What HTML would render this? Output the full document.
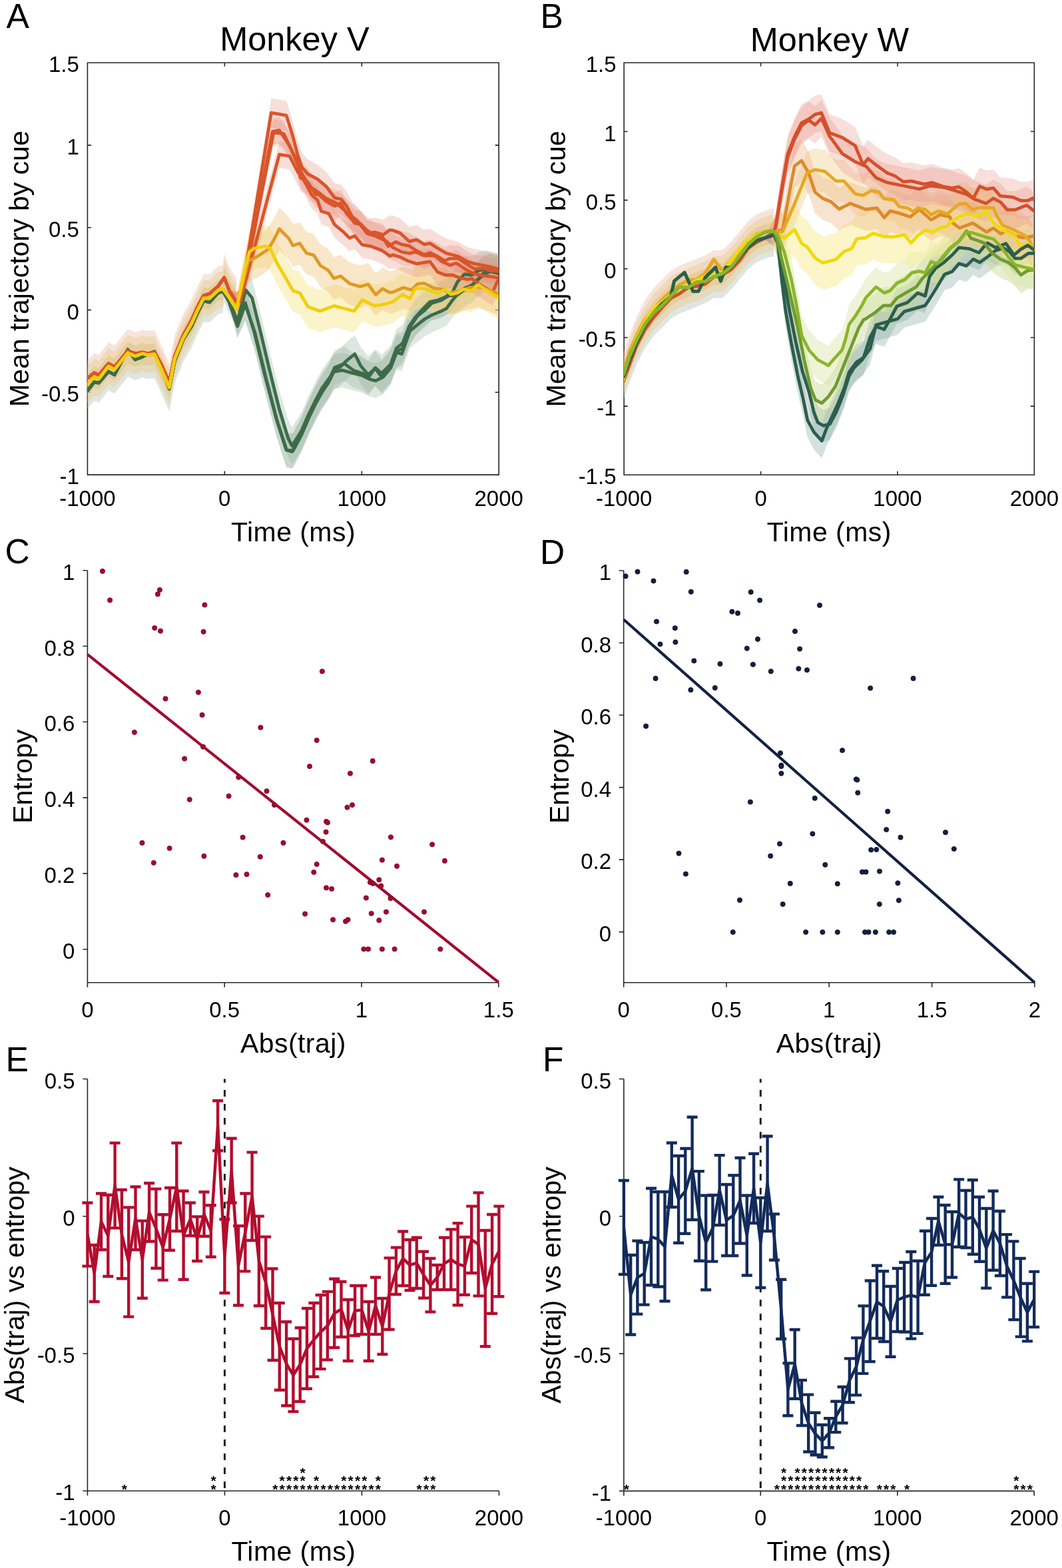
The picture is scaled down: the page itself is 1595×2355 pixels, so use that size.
<!DOCTYPE html>
<html><head><meta charset="utf-8"><style>
html,body{margin:0;padding:0;background:#fff;}
svg{display:block;}
text{font-family:"Liberation Sans", Arial, sans-serif;}
.lab{letter-spacing:0.45px;}
</style></head><body>
<svg xmlns="http://www.w3.org/2000/svg" width="1595" height="2355" viewBox="0 0 1595 2355">
<rect width="1595" height="2355" fill="#fff"/>
<text x="9.5" y="42.3" font-size="51.5" text-anchor="start" fill="#000">A</text>
<text x="811.5" y="41.6" font-size="51.5" text-anchor="start" fill="#000">B</text>
<text x="7.5" y="846.3" font-size="51.5" text-anchor="start" fill="#000">C</text>
<text x="811" y="846.5" font-size="51.5" text-anchor="start" fill="#000">D</text>
<text x="8.5" y="1609.3" font-size="51.5" text-anchor="start" fill="#000">E</text>
<text x="815" y="1609.3" font-size="51.5" text-anchor="start" fill="#000">F</text>
<text x="442.4" y="76.4" font-size="50.5" text-anchor="middle" fill="#000">Monkey V</text>
<text x="1246" y="76.8" font-size="50.5" text-anchor="middle" fill="#000">Monkey W</text>
<path d="M131.4 94.3H749.2V713.1H131.4ZM131.4 713.1V707.6M131.4 94.3V99.8M337.3 713.1V707.6M337.3 94.3V99.8M543.3 713.1V707.6M543.3 94.3V99.8M749.2 713.1V707.6M749.2 94.3V99.8M131.4 713.1H136.9M749.2 713.1H743.7M131.4 589.3H136.9M749.2 589.3H743.7M131.4 465.6H136.9M749.2 465.6H743.7M131.4 341.8H136.9M749.2 341.8H743.7M131.4 218.1H136.9M749.2 218.1H743.7M131.4 94.3H136.9M749.2 94.3H743.7" fill="none" stroke="#262626" stroke-width="1.6"/>
<text x="131.4" y="760.1" font-size="33" text-anchor="middle" fill="#000">-1000</text>
<text x="337.3" y="760.1" font-size="33" text-anchor="middle" fill="#000">0</text>
<text x="543.3" y="760.1" font-size="33" text-anchor="middle" fill="#000">1000</text>
<text x="749.2" y="760.1" font-size="33" text-anchor="middle" fill="#000">2000</text>
<text x="118.8" y="727.2" font-size="33" text-anchor="end" fill="#000">-1</text>
<text x="118.8" y="603.4" font-size="33" text-anchor="end" fill="#000">-0.5</text>
<text x="118.8" y="479.7" font-size="33" text-anchor="end" fill="#000">0</text>
<text x="118.8" y="355.9" font-size="33" text-anchor="end" fill="#000">0.5</text>
<text x="118.8" y="232.2" font-size="33" text-anchor="end" fill="#000">1</text>
<text x="118.8" y="108.4" font-size="33" text-anchor="end" fill="#000">1.5</text>
<text x="440.5" y="812.7" font-size="41" text-anchor="middle" fill="#000" class="lab">Time (ms)</text>
<text x="43.1" y="403.7" font-size="41" text-anchor="middle" transform="rotate(-90 43.1 403.7)" fill="#000">Mean trajectory by cue</text>
<path d="M937.2 94.3H1553.4V713.3H937.2ZM937.2 713.3V707.8M937.2 94.3V99.8M1142.6 713.3V707.8M1142.6 94.3V99.8M1348 713.3V707.8M1348 94.3V99.8M1553.4 713.3V707.8M1553.4 94.3V99.8M937.2 713.3H942.7M1553.4 713.3H1547.9M937.2 610.1H942.7M1553.4 610.1H1547.9M937.2 507H942.7M1553.4 507H1547.9M937.2 403.8H942.7M1553.4 403.8H1547.9M937.2 300.6H942.7M1553.4 300.6H1547.9M937.2 197.5H942.7M1553.4 197.5H1547.9M937.2 94.3H942.7M1553.4 94.3H1547.9" fill="none" stroke="#262626" stroke-width="1.6"/>
<text x="937.2" y="760.3" font-size="33" text-anchor="middle" fill="#000">-1000</text>
<text x="1142.6" y="760.3" font-size="33" text-anchor="middle" fill="#000">0</text>
<text x="1348" y="760.3" font-size="33" text-anchor="middle" fill="#000">1000</text>
<text x="1553.4" y="760.3" font-size="33" text-anchor="middle" fill="#000">2000</text>
<text x="925.5" y="727.4" font-size="33" text-anchor="end" fill="#000">-1.5</text>
<text x="925.5" y="624.2" font-size="33" text-anchor="end" fill="#000">-1</text>
<text x="925.5" y="521.1" font-size="33" text-anchor="end" fill="#000">-0.5</text>
<text x="925.5" y="417.9" font-size="33" text-anchor="end" fill="#000">0</text>
<text x="925.5" y="314.7" font-size="33" text-anchor="end" fill="#000">0.5</text>
<text x="925.5" y="211.6" font-size="33" text-anchor="end" fill="#000">1</text>
<text x="925.5" y="108.4" font-size="33" text-anchor="end" fill="#000">1.5</text>
<text x="1245.3" y="812.7" font-size="41" text-anchor="middle" fill="#000" class="lab">Time (ms)</text>
<text x="848.9" y="403.8" font-size="41" text-anchor="middle" transform="rotate(-90 848.9 403.8)" fill="#000">Mean trajectory by cue</text>
<path d="M131.4 856.7V1475.8H748.8M131.4 1475.8V1482.8M337.2 1475.8V1482.8M543 1475.8V1482.8M748.8 1475.8V1482.8M131.4 1425.7H124.4M131.4 1311.9H124.4M131.4 1198.1H124.4M131.4 1084.3H124.4M131.4 970.5H124.4M131.4 856.7H124.4" fill="none" stroke="#262626" stroke-width="1.6"/>
<text x="131.4" y="1527.5" font-size="33" text-anchor="middle" fill="#000">0</text>
<text x="337.2" y="1527.5" font-size="33" text-anchor="middle" fill="#000">0.5</text>
<text x="543" y="1527.5" font-size="33" text-anchor="middle" fill="#000">1</text>
<text x="748.8" y="1527.5" font-size="33" text-anchor="middle" fill="#000">1.5</text>
<text x="112.3" y="1439.8" font-size="33" text-anchor="end" fill="#000">0</text>
<text x="112.3" y="1326" font-size="33" text-anchor="end" fill="#000">0.2</text>
<text x="112.3" y="1212.2" font-size="33" text-anchor="end" fill="#000">0.4</text>
<text x="112.3" y="1098.4" font-size="33" text-anchor="end" fill="#000">0.6</text>
<text x="112.3" y="984.6" font-size="33" text-anchor="end" fill="#000">0.8</text>
<text x="112.3" y="870.8" font-size="33" text-anchor="end" fill="#000">1</text>
<text x="440.4" y="1581.1" font-size="41" text-anchor="middle" fill="#000" class="lab">Abs(traj)</text>
<text x="48.3" y="1166.2" font-size="41" text-anchor="middle" transform="rotate(-90 48.3 1166.2)" fill="#000">Entropy</text>
<path d="M936.7 857V1475.8H1553.9M936.7 1475.8V1482.8M1091 1475.8V1482.8M1245.3 1475.8V1482.8M1399.6 1475.8V1482.8M1553.9 1475.8V1482.8M936.7 1399.6H929.7M936.7 1291.1H929.7M936.7 1182.6H929.7M936.7 1074H929.7M936.7 965.5H929.7M936.7 857H929.7" fill="none" stroke="#262626" stroke-width="1.6"/>
<text x="936.7" y="1527.5" font-size="33" text-anchor="middle" fill="#000">0</text>
<text x="1091" y="1527.5" font-size="33" text-anchor="middle" fill="#000">0.5</text>
<text x="1245.3" y="1527.5" font-size="33" text-anchor="middle" fill="#000">1</text>
<text x="1399.6" y="1527.5" font-size="33" text-anchor="middle" fill="#000">1.5</text>
<text x="1553.9" y="1527.5" font-size="33" text-anchor="middle" fill="#000">2</text>
<text x="918" y="1413.7" font-size="33" text-anchor="end" fill="#000">0</text>
<text x="918" y="1305.2" font-size="33" text-anchor="end" fill="#000">0.2</text>
<text x="918" y="1196.7" font-size="33" text-anchor="end" fill="#000">0.4</text>
<text x="918" y="1088.1" font-size="33" text-anchor="end" fill="#000">0.6</text>
<text x="918" y="979.6" font-size="33" text-anchor="end" fill="#000">0.8</text>
<text x="918" y="871.1" font-size="33" text-anchor="end" fill="#000">1</text>
<text x="1245.3" y="1581.1" font-size="41" text-anchor="middle" fill="#000" class="lab">Abs(traj)</text>
<text x="854.1" y="1166.4" font-size="41" text-anchor="middle" transform="rotate(-90 854.1 1166.4)" fill="#000">Entropy</text>
<path d="M131.4 1620.5V2239.3H749.5M131.4 2239.3V2246.3M337.4 2239.3V2246.3M543.5 2239.3V2246.3M749.5 2239.3V2246.3M131.4 2239.3H124.4M131.4 2033H124.4M131.4 1826.8H124.4M131.4 1620.5H124.4" fill="none" stroke="#262626" stroke-width="1.6"/>
<text x="131.4" y="2290.7" font-size="33" text-anchor="middle" fill="#000">-1000</text>
<text x="337.4" y="2290.7" font-size="33" text-anchor="middle" fill="#000">0</text>
<text x="543.5" y="2290.7" font-size="33" text-anchor="middle" fill="#000">1000</text>
<text x="749.5" y="2290.7" font-size="33" text-anchor="middle" fill="#000">2000</text>
<text x="112.5" y="2253.4" font-size="33" text-anchor="end" fill="#000">-1</text>
<text x="112.5" y="2047.1" font-size="33" text-anchor="end" fill="#000">-0.5</text>
<text x="112.5" y="1840.9" font-size="33" text-anchor="end" fill="#000">0</text>
<text x="112.5" y="1634.6" font-size="33" text-anchor="end" fill="#000">0.5</text>
<text x="440.9" y="2344.4" font-size="41" text-anchor="middle" fill="#000" class="lab">Time (ms)</text>
<text x="36" y="1929.9" font-size="41" text-anchor="middle" transform="rotate(-90 36 1929.9)" fill="#000">Abs(traj) vs entropy</text>
<path d="M936.9 1620.5V2239.4H1553.2M936.9 2239.4V2246.4M1142.3 2239.4V2246.4M1347.8 2239.4V2246.4M1553.2 2239.4V2246.4M936.9 2239.4H929.9M936.9 2033.1H929.9M936.9 1826.8H929.9M936.9 1620.5H929.9" fill="none" stroke="#262626" stroke-width="1.6"/>
<text x="936.9" y="2290.8" font-size="33" text-anchor="middle" fill="#000">-1000</text>
<text x="1142.3" y="2290.8" font-size="33" text-anchor="middle" fill="#000">0</text>
<text x="1347.8" y="2290.8" font-size="33" text-anchor="middle" fill="#000">1000</text>
<text x="1553.2" y="2290.8" font-size="33" text-anchor="middle" fill="#000">2000</text>
<text x="918" y="2253.5" font-size="33" text-anchor="end" fill="#000">-1</text>
<text x="918" y="2047.2" font-size="33" text-anchor="end" fill="#000">-0.5</text>
<text x="918" y="1840.9" font-size="33" text-anchor="end" fill="#000">0</text>
<text x="918" y="1634.6" font-size="33" text-anchor="end" fill="#000">0.5</text>
<text x="1245.1" y="2344.4" font-size="41" text-anchor="middle" fill="#000" class="lab">Time (ms)</text>
<text x="841.7" y="1929.9" font-size="41" text-anchor="middle" transform="rotate(-90 841.7 1929.9)" fill="#000">Abs(traj) vs entropy</text>
<path d="M131.4 982.9L748.8 1475.3" stroke="#a30a2e" stroke-width="4.2" fill="none"/>
<g fill="#a30a2e" stroke="#7d0822" stroke-width="0.9"><circle cx="153.9" cy="857.9" r="3.6"/><circle cx="165.1" cy="901.4" r="3.6"/><circle cx="239.9" cy="886" r="3.6"/><circle cx="236.9" cy="892.4" r="3.6"/><circle cx="307.4" cy="908.5" r="3.6"/><circle cx="232.2" cy="943.1" r="3.6"/><circle cx="241" cy="947.7" r="3.6"/><circle cx="305.6" cy="948.8" r="3.6"/><circle cx="297.9" cy="1039.8" r="3.6"/><circle cx="248.5" cy="1049.4" r="3.6"/><circle cx="303.6" cy="1073.8" r="3.6"/><circle cx="391.4" cy="1092.7" r="3.6"/><circle cx="201.9" cy="1099.8" r="3.6"/><circle cx="305" cy="1121.6" r="3.6"/><circle cx="277.1" cy="1139.5" r="3.6"/><circle cx="483.9" cy="1008.3" r="3.6"/><circle cx="475.7" cy="1111.8" r="3.6"/><circle cx="559.7" cy="1142.9" r="3.6"/><circle cx="465" cy="1151" r="3.6"/><circle cx="358.3" cy="1167.3" r="3.6"/><circle cx="400.5" cy="1188.2" r="3.6"/><circle cx="343.6" cy="1195.7" r="3.6"/><circle cx="284.7" cy="1200.8" r="3.6"/><circle cx="412.1" cy="1209" r="3.6"/><circle cx="364.6" cy="1257.7" r="3.6"/><circle cx="425.5" cy="1265.9" r="3.6"/><circle cx="213.5" cy="1265.9" r="3.6"/><circle cx="254.6" cy="1274" r="3.6"/><circle cx="306.4" cy="1285.8" r="3.6"/><circle cx="390.8" cy="1286.8" r="3.6"/><circle cx="230.8" cy="1295.8" r="3.6"/><circle cx="354.4" cy="1314.1" r="3.6"/><circle cx="370.5" cy="1313.2" r="3.6"/><circle cx="402.2" cy="1344.1" r="3.6"/><circle cx="526" cy="1161.6" r="3.6"/><circle cx="521.5" cy="1212.6" r="3.6"/><circle cx="529" cy="1209" r="3.6"/><circle cx="460.5" cy="1231.7" r="3.6"/><circle cx="490" cy="1233.8" r="3.6"/><circle cx="492" cy="1235.4" r="3.6"/><circle cx="489.6" cy="1249.6" r="3.6"/><circle cx="484.9" cy="1263.8" r="3.6"/><circle cx="586.9" cy="1257.3" r="3.6"/><circle cx="649.1" cy="1268.3" r="3.6"/><circle cx="573.9" cy="1291.7" r="3.6"/><circle cx="667.9" cy="1292.9" r="3.6"/><circle cx="475.7" cy="1298" r="3.6"/><circle cx="596.1" cy="1300.8" r="3.6"/><circle cx="471.3" cy="1310" r="3.6"/><circle cx="569.3" cy="1321.4" r="3.6"/><circle cx="556" cy="1325.2" r="3.6"/><circle cx="560.1" cy="1326.9" r="3.6"/><circle cx="572.3" cy="1330.5" r="3.6"/><circle cx="490" cy="1333.4" r="3.6"/><circle cx="498.1" cy="1335" r="3.6"/><circle cx="549.9" cy="1348.6" r="3.6"/><circle cx="586.5" cy="1349.2" r="3.6"/><circle cx="458.1" cy="1372.6" r="3.6"/><circle cx="557.7" cy="1372" r="3.6"/><circle cx="580" cy="1369.6" r="3.6"/><circle cx="637" cy="1369.6" r="3.6"/><circle cx="500.1" cy="1381.3" r="3.6"/><circle cx="519" cy="1383.8" r="3.6"/><circle cx="522.5" cy="1381.3" r="3.6"/><circle cx="569.3" cy="1382.2" r="3.6"/><circle cx="546.3" cy="1425.5" r="3.6"/><circle cx="553" cy="1425.5" r="3.6"/><circle cx="573.9" cy="1425.5" r="3.6"/><circle cx="592.6" cy="1425.5" r="3.6"/><circle cx="661.3" cy="1425.5" r="3.6"/></g>
<path d="M936.7 930.5L1553.9 1475.8" stroke="#13213f" stroke-width="4.2" fill="none"/>
<g fill="#13213f" stroke="#0c1630" stroke-width="0.9"><circle cx="939.6" cy="865.4" r="3.6"/><circle cx="957.5" cy="858.7" r="3.6"/><circle cx="1030.7" cy="858.9" r="3.6"/><circle cx="981.5" cy="872.5" r="3.6"/><circle cx="1037.8" cy="888.8" r="3.6"/><circle cx="1127.7" cy="889.2" r="3.6"/><circle cx="1141.1" cy="901.6" r="3.6"/><circle cx="1231" cy="909.1" r="3.6"/><circle cx="1099.4" cy="918.7" r="3.6"/><circle cx="1108" cy="920.9" r="3.6"/><circle cx="986" cy="933.5" r="3.6"/><circle cx="1013.8" cy="943.3" r="3.6"/><circle cx="1194" cy="948.2" r="3.6"/><circle cx="1138" cy="959.9" r="3.6"/><circle cx="991.5" cy="967.5" r="3.6"/><circle cx="1014.4" cy="964.4" r="3.6"/><circle cx="1121.8" cy="973.8" r="3.6"/><circle cx="1201.1" cy="974.6" r="3.6"/><circle cx="1042.3" cy="992.5" r="3.6"/><circle cx="1081.5" cy="997.1" r="3.6"/><circle cx="1130.9" cy="998" r="3.6"/><circle cx="1157.8" cy="1008.3" r="3.6"/><circle cx="1199.4" cy="1004.3" r="3.6"/><circle cx="1212" cy="1006.3" r="3.6"/><circle cx="984.6" cy="1018.9" r="3.6"/><circle cx="1037.4" cy="1036.2" r="3.6"/><circle cx="1073.8" cy="1033.1" r="3.6"/><circle cx="970.1" cy="1090.7" r="3.6"/><circle cx="1172" cy="1131.1" r="3.6"/><circle cx="1173.4" cy="1149.4" r="3.6"/><circle cx="1173.4" cy="1151" r="3.6"/><circle cx="1371.6" cy="1018.9" r="3.6"/><circle cx="1307.2" cy="1033.5" r="3.6"/><circle cx="1265.1" cy="1127" r="3.6"/><circle cx="1173.4" cy="1161.6" r="3.6"/><circle cx="1126.9" cy="1204.5" r="3.6"/><circle cx="1223.8" cy="1198.8" r="3.6"/><circle cx="1220.4" cy="1252.3" r="3.6"/><circle cx="1171" cy="1267.3" r="3.6"/><circle cx="1157.2" cy="1285.6" r="3.6"/><circle cx="1019.5" cy="1281.7" r="3.6"/><circle cx="1239.3" cy="1298.8" r="3.6"/><circle cx="1029.9" cy="1312.6" r="3.6"/><circle cx="1186.8" cy="1326.9" r="3.6"/><circle cx="1111" cy="1351.9" r="3.6"/><circle cx="1175.7" cy="1358" r="3.6"/><circle cx="1100.8" cy="1400" r="3.6"/><circle cx="1210.2" cy="1400" r="3.6"/><circle cx="1235.4" cy="1400" r="3.6"/><circle cx="1285.8" cy="1170.3" r="3.6"/><circle cx="1287.4" cy="1171.3" r="3.6"/><circle cx="1288.3" cy="1190.7" r="3.6"/><circle cx="1333.2" cy="1218.7" r="3.6"/><circle cx="1331.2" cy="1246" r="3.6"/><circle cx="1352.5" cy="1257.7" r="3.6"/><circle cx="1420" cy="1250.2" r="3.6"/><circle cx="1432.8" cy="1275" r="3.6"/><circle cx="1308.2" cy="1276.4" r="3.6"/><circle cx="1316.3" cy="1276" r="3.6"/><circle cx="1295" cy="1309.6" r="3.6"/><circle cx="1300.5" cy="1309.6" r="3.6"/><circle cx="1321" cy="1308.6" r="3.6"/><circle cx="1257.8" cy="1327.3" r="3.6"/><circle cx="1348.4" cy="1326.3" r="3.6"/><circle cx="1349.9" cy="1352.3" r="3.6"/><circle cx="1320.8" cy="1358" r="3.6"/><circle cx="1257.8" cy="1400" r="3.6"/><circle cx="1299" cy="1400" r="3.6"/><circle cx="1304.5" cy="1400" r="3.6"/><circle cx="1314.9" cy="1400" r="3.6"/><circle cx="1335.2" cy="1400" r="3.6"/><circle cx="1342.1" cy="1400" r="3.6"/></g>
<path d="M337.4 1620.5V2239.3" stroke="#000" stroke-width="2.8" stroke-dasharray="10 11" stroke-dashoffset="4.5" fill="none"/>
<path d="M131.4 1806.5V1901.6M123.4 1806.5H139.4M123.4 1901.6H139.4M141.7 1870V1955M133.7 1870H149.7M133.7 1955H149.7M152 1792.5V1877M144 1792.5H160M144 1877H160M162.3 1794.8V1917M154.3 1794.8H170.3M154.3 1917H170.3M172.6 1716.6V1844.4M164.6 1716.6H180.6M164.6 1844.4H180.6M182.9 1787V1920.3M174.9 1787H190.9M174.9 1920.3H190.9M193.2 1813.4V1977.6M185.2 1813.4H201.2M185.2 1977.6H201.2M203.5 1782.5V1877M195.5 1782.5H211.5M195.5 1877H211.5M213.8 1833.6V1949.7M205.8 1833.6H221.8M205.8 1949.7H221.8M224.1 1777V1864.5M216.1 1777H232.1M216.1 1864.5H232.1M234.4 1785.6V1904.8M226.4 1785.6H242.4M226.4 1904.8H242.4M244.7 1824.3V1922.6M236.7 1824.3H252.7M236.7 1922.6H252.7M255 1784V1877.7M247 1784H263M247 1877.7H263M265.3 1716.6V1849M257.3 1716.6H273.3M257.3 1849H273.3M275.6 1788.7V1921.8M267.6 1788.7H283.6M267.6 1921.8H283.6M285.9 1806.5V1856M277.9 1806.5H293.9M277.9 1856H293.9M296.2 1827.4V1894M288.2 1827.4H304.2M288.2 1894H304.2M306.5 1790.2V1856.8M298.5 1790.2H314.5M298.5 1856.8H314.5M316.8 1810.3V1887.8M308.8 1810.3H324.8M308.8 1887.8H324.8M327.1 1653.2V1728.3M319.1 1653.2H335.1M319.1 1728.3H335.1M337.4 1831.2V1942M329.4 1831.2H345.4M329.4 1942H345.4M347.7 1709.7V1806.5M339.7 1709.7H355.7M339.7 1806.5H355.7M358 1841.3V1960.5M350 1841.3H366M350 1960.5H366M368.3 1792.5V1909.4M360.3 1792.5H376.3M360.3 1909.4H376.3M378.6 1730.6V1863M370.6 1730.6H386.6M370.6 1863H386.6M388.9 1826.6V1961.3M380.9 1826.6H396.9M380.9 1961.3H396.9M399.2 1857.6V1995M391.2 1857.6H407.2M391.2 1995H407.2M409.5 1905.5V2043M401.5 1905.5H417.5M401.5 2043H417.5M419.8 1957V2087.8M411.8 1957H427.8M411.8 2087.8H427.8M430.1 1985.3V2111.2M422.1 1985.3H438.1M422.1 2111.2H438.1M440.4 2010.7V2120.1M432.4 2010.7H448.4M432.4 2120.1H448.4M450.7 1994.2V2105M442.7 1994.2H458.7M442.7 2105H458.7M461 1965V2085.7M453 1965H469M453 2085.7H469M471.3 1957V2067.8M463.3 1957H479.3M463.3 2067.8H479.3M481.6 1945V2056.1M473.6 1945H489.6M473.6 2056.1H489.6M491.9 1939.9V2042.4M483.9 1939.9H499.9M483.9 2042.4H499.9M502.2 1920.7V2024M494.2 1920.7H510.2M494.2 2024H510.2M512.5 1925V2008M504.5 1925H520.5M504.5 2008H520.5M522.8 1952V2044M514.8 1952H530.8M514.8 2044H530.8M533.1 1931V2006M525.1 1931H541.1M525.1 2006H541.1M543.4 1931V2004M535.4 1931H551.4M535.4 2004H551.4M553.7 1955V2044M545.7 1955H561.7M545.7 2044H561.7M564 1918.5V2004M556 1918.5H572M556 2004H572M574.3 1950V2034M566.3 1950H582.3M566.3 2034H582.3M584.6 1889.4V1996.7M576.6 1889.4H592.6M576.6 1996.7H592.6M594.9 1873.6V1944M586.9 1873.6H602.9M586.9 1944H602.9M605.2 1849.5V1931M597.2 1849.5H613.2M597.2 1931H613.2M615.5 1862V1938M607.5 1862H623.5M607.5 1938H623.5M625.8 1858.8V1935M617.8 1858.8H633.8M617.8 1935H633.8M636.1 1879.8V1949.5M628.1 1879.8H644.1M628.1 1949.5H644.1M646.4 1890V1970.4M638.4 1890H654.4M638.4 1970.4H654.4M656.7 1900V1937M648.7 1900H664.7M648.7 1937H664.7M667 1858.8V1937M659 1858.8H675M659 1937H675M677.3 1846.4V1937M669.3 1846.4H685.3M669.3 1937H685.3M687.6 1837.1V1960.3M679.6 1837.1H695.6M679.6 1960.3H695.6M697.9 1858V1944.8M689.9 1858H705.9M689.9 1944.8H705.9M708.2 1811.6V1912M700.2 1811.6H716.2M700.2 1912H716.2M718.5 1791.4V1946.4M710.5 1791.4H726.5M710.5 1946.4H726.5M728.8 1848V2022.3M720.8 1848H736.8M720.8 2022.3H736.8M739.1 1824V1972.7M731.1 1824H747.1M731.1 1972.7H747.1M749.4 1811.6V1947.2M741.4 1811.6H757.4M741.4 1947.2H757.4" stroke="#b30d2e" stroke-width="4.4" fill="none" stroke-linejoin="miter"/>
<path d="M131.4 1854L141.7 1912.5L152 1834.8L162.3 1855.9L172.6 1780.5L182.9 1853.7L193.2 1895.5L203.5 1829.8L213.8 1891.7L224.1 1820.8L234.4 1845.2L244.7 1873.4L255 1830.8L265.3 1782.8L275.6 1855.2L285.9 1831.2L296.2 1860.7L306.5 1823.5L316.8 1849L327.1 1690.8L337.4 1886.6L347.7 1758.1L358 1900.9L368.3 1851L378.6 1796.8L388.9 1893.9L399.2 1926.3L409.5 1974.2L419.8 2022.4L430.1 2048.2L440.4 2065.4L450.7 2049.6L461 2025.3L471.3 2012.4L481.6 2000.5L491.9 1991.2L502.2 1972.3L512.5 1966.5L522.8 1998L533.1 1968.5L543.4 1967.5L553.7 1999.5L564 1961.2L574.3 1992L584.6 1943.1L594.9 1908.8L605.2 1890.2L615.5 1900L625.8 1896.9L636.1 1914.7L646.4 1930.2L656.7 1918.5L667 1897.9L677.3 1891.7L687.6 1898.7L697.9 1901.4L708.2 1861.8L718.5 1868.9L728.8 1935.2L739.1 1898.3L749.4 1879.4" stroke="#b30d2e" stroke-width="4.5" fill="none" stroke-linejoin="round"/>
<g font-size="21" font-weight="bold" style="font-family:'DejaVu Sans',sans-serif" fill="#000"><text x="182.7" y="2243.6">*</text><text x="316.6" y="2243.6">*</text><text x="316.6" y="2230.5">*</text><text x="409.3" y="2243.6">*</text><text x="419.6" y="2243.6">*</text><text x="429.9" y="2243.6">*</text><text x="440.2" y="2243.6">*</text><text x="450.5" y="2243.6">*</text><text x="460.8" y="2243.6">*</text><text x="471.1" y="2243.6">*</text><text x="481.4" y="2243.6">*</text><text x="491.7" y="2243.6">*</text><text x="502" y="2243.6">*</text><text x="512.3" y="2243.6">*</text><text x="522.6" y="2243.6">*</text><text x="532.9" y="2243.6">*</text><text x="543.2" y="2243.6">*</text><text x="553.5" y="2243.6">*</text><text x="563.8" y="2243.6">*</text><text x="625.6" y="2243.6">*</text><text x="635.9" y="2243.6">*</text><text x="646.2" y="2243.6">*</text><text x="419.6" y="2230.5">*</text><text x="429.9" y="2230.5">*</text><text x="440.2" y="2230.5">*</text><text x="450.5" y="2230.5">*</text><text x="471.1" y="2230.5">*</text><text x="512.3" y="2230.5">*</text><text x="522.6" y="2230.5">*</text><text x="532.9" y="2230.5">*</text><text x="543.2" y="2230.5">*</text><text x="563.8" y="2230.5">*</text><text x="635.9" y="2230.5">*</text><text x="646.2" y="2230.5">*</text><text x="450.5" y="2218.7">*</text></g>
<path d="M1142.3 1620.5V2239.4" stroke="#000" stroke-width="2.8" stroke-dasharray="10 11" stroke-dashoffset="4.5" fill="none"/>
<path d="M936.9 1773V1914M928.9 1773H944.9M928.9 1914H944.9M947.2 1885V2004.5M939.2 1885H955.2M939.2 2004.5H955.2M957.4 1863.6V1973.6M949.4 1863.6H965.4M949.4 1973.6H965.4M967.7 1866V1959.6M959.7 1866H975.7M959.7 1959.6H975.7M978 1784.7V1930.2M970 1784.7H986M970 1930.2H986M988.3 1790V1932.5M980.3 1790H996.3M980.3 1932.5H996.3M998.5 1790V1954.2M990.5 1790H1006.5M990.5 1954.2H1006.5M1008.8 1716.5V1813M1000.8 1716.5H1016.8M1000.8 1813H1016.8M1019.1 1736V1866.7M1011.1 1736H1027.1M1011.1 1866.7H1027.1M1029.3 1725V1852.8M1021.3 1725H1037.3M1021.3 1852.8H1037.3M1039.6 1677.8V1832M1031.6 1677.8H1047.6M1031.6 1832H1047.6M1049.9 1759.1V1893.8M1041.9 1759.1H1057.9M1041.9 1893.8H1057.9M1060.2 1795.5V1937.2M1052.2 1795.5H1068.2M1052.2 1937.2H1068.2M1070.4 1795V1894.6M1062.4 1795H1078.4M1062.4 1894.6H1078.4M1080.7 1735.1V1840M1072.7 1735.1H1088.7M1072.7 1840H1088.7M1091 1779V1886M1083 1779H1099M1083 1886H1099M1101.3 1765.3V1886M1093.3 1765.3H1109.3M1093.3 1886H1109.3M1111.5 1739V1867.5M1103.5 1739H1119.5M1103.5 1867.5H1119.5M1121.8 1795.5V1915.5M1113.8 1795.5H1129.8M1113.8 1915.5H1129.8M1132.1 1732.8V1837M1124.1 1732.8H1140.1M1124.1 1837H1140.1M1142.3 1799V1934M1134.3 1799H1150.3M1134.3 1934H1150.3M1152.6 1706.5V1849M1144.6 1706.5H1160.6M1144.6 1849H1160.6M1162.9 1823.4V1892.5M1154.9 1823.4H1170.9M1154.9 1892.5H1170.9M1173.2 1921.7V2011M1165.2 1921.7H1181.2M1165.2 2011H1181.2M1183.4 2047.4V2126.3M1175.4 2047.4H1191.4M1175.4 2126.3H1191.4M1193.7 1997V2100.8M1185.7 1997H1201.7M1185.7 2100.8H1201.7M1204 2072.9V2141M1196 2072.9H1212M1196 2141H1212M1214.2 2094.6V2180.5M1206.2 2094.6H1222.2M1206.2 2180.5H1222.2M1224.5 2121.7V2185.2M1216.5 2121.7H1232.5M1216.5 2185.2H1232.5M1234.8 2140V2188.3M1226.8 2140H1242.8M1226.8 2188.3H1242.8M1245.1 2130.2V2174.3M1237.1 2130.2H1253.1M1237.1 2174.3H1253.1M1255.3 2104.7V2151.1M1247.3 2104.7H1263.3M1247.3 2151.1H1263.3M1265.6 2083V2137.2M1257.6 2083H1273.6M1257.6 2137.2H1273.6M1275.9 2040.4V2106.2M1267.9 2040.4H1283.9M1267.9 2106.2H1283.9M1286.1 2009.4V2095.4M1278.1 2009.4H1294.1M1278.1 2095.4H1294.1M1296.4 1961.4V2062.9M1288.4 1961.4H1304.4M1288.4 2062.9H1304.4M1306.7 1923.5V2045M1298.7 1923.5H1314.7M1298.7 2045H1314.7M1317 1900.7V2010M1309 1900.7H1325M1309 2010H1325M1327.2 1909.2V2015M1319.2 1909.2H1335.2M1319.2 2015H1335.2M1337.5 1932V2037.7M1329.5 1932H1345.5M1329.5 2037.7H1345.5M1347.8 1905V2000M1339.8 1905H1355.8M1339.8 2000H1355.8M1358.1 1896V2000.5M1350.1 1896H1366.1M1350.1 2000.5H1366.1M1368.3 1880V2010.6M1360.3 1880H1376.3M1360.3 2010.6H1376.3M1378.6 1893.7V2002.9M1370.6 1893.7H1386.6M1370.6 2002.9H1386.6M1388.9 1848.8V1944.8M1380.9 1848.8H1396.9M1380.9 1944.8H1396.9M1399.1 1830V1930.8M1391.1 1830H1407.1M1391.1 1930.8H1407.1M1409.4 1797.7V1870M1401.4 1797.7H1417.4M1401.4 1870H1417.4M1419.7 1810V1927.8M1411.7 1810H1427.7M1411.7 1927.8H1427.7M1430 1820V1918.5M1422 1820H1438M1422 1918.5H1438M1440.2 1771.4V1872.8M1432.2 1771.4H1448.2M1432.2 1872.8H1448.2M1450.5 1788V1874.1M1442.5 1788H1458.5M1442.5 1874.1H1458.5M1460.8 1772.2V1883.7M1452.8 1772.2H1468.8M1452.8 1883.7H1468.8M1471 1797.7V1894.7M1463 1797.7H1479M1463 1894.7H1479M1481.3 1815V1934.6M1473.3 1815H1489.3M1473.3 1934.6H1489.3M1491.6 1788.8V1907.8M1483.6 1788.8H1499.6M1483.6 1907.8H1499.6M1501.9 1819V1916M1493.9 1819H1509.9M1493.9 1916H1509.9M1512.1 1854.1V1948.4M1504.1 1854.1H1520.1M1504.1 1948.4H1520.1M1522.4 1864.4V1982.1M1514.4 1864.4H1530.4M1514.4 1982.1H1530.4M1532.7 1890V2007.6M1524.7 1890H1540.7M1524.7 2007.6H1540.7M1542.9 1927.7V2014.4M1534.9 1927.7H1550.9M1534.9 2014.4H1550.9M1553.2 1909.9V1993.1M1545.2 1909.9H1561.2M1545.2 1993.1H1561.2" stroke="#132b5b" stroke-width="4.4" fill="none" stroke-linejoin="miter"/>
<path d="M936.9 1843.5L947.2 1944.8L957.4 1918.6L967.7 1912.8L978 1857.5L988.3 1861.2L998.5 1872.1L1008.8 1764.8L1019.1 1801.3L1029.3 1788.9L1039.6 1754.9L1049.9 1826.4L1060.2 1866.3L1070.4 1844.8L1080.7 1787.5L1091 1832.5L1101.3 1825.7L1111.5 1803.2L1121.8 1855.5L1132.1 1784.9L1142.3 1866.5L1152.6 1777.8L1162.9 1858L1173.2 1966.3L1183.4 2086.9L1193.7 2048.9L1204 2106.9L1214.2 2137.6L1224.5 2153.4L1234.8 2164.2L1245.1 2152.2L1255.3 2127.9L1265.6 2110.1L1275.9 2073.3L1286.1 2052.4L1296.4 2012.2L1306.7 1984.2L1317 1955.3L1327.2 1962.1L1337.5 1984.8L1347.8 1952.5L1358.1 1948.2L1368.3 1945.3L1378.6 1948.3L1388.9 1896.8L1399.1 1880.4L1409.4 1833.8L1419.7 1868.9L1430 1869.2L1440.2 1822.1L1450.5 1831L1460.8 1828L1471 1846.2L1481.3 1874.8L1491.6 1848.3L1501.9 1867.5L1512.1 1901.2L1522.4 1923.2L1532.7 1948.8L1542.9 1971.1L1553.2 1951.5" stroke="#132b5b" stroke-width="4.5" fill="none" stroke-linejoin="round"/>
<g font-size="21" font-weight="bold" style="font-family:'DejaVu Sans',sans-serif" fill="#000"><text x="936.7" y="2243.6">*</text><text x="1162.7" y="2243.6">*</text><text x="1173" y="2243.6">*</text><text x="1183.2" y="2243.6">*</text><text x="1193.5" y="2243.6">*</text><text x="1203.8" y="2243.6">*</text><text x="1214" y="2243.6">*</text><text x="1224.3" y="2243.6">*</text><text x="1234.6" y="2243.6">*</text><text x="1244.9" y="2243.6">*</text><text x="1255.1" y="2243.6">*</text><text x="1265.4" y="2243.6">*</text><text x="1275.7" y="2243.6">*</text><text x="1285.9" y="2243.6">*</text><text x="1296.2" y="2243.6">*</text><text x="1316.8" y="2243.6">*</text><text x="1327" y="2243.6">*</text><text x="1337.3" y="2243.6">*</text><text x="1357.9" y="2243.6">*</text><text x="1522.2" y="2243.6">*</text><text x="1532.5" y="2243.6">*</text><text x="1542.7" y="2243.6">*</text><text x="1173" y="2230.5">*</text><text x="1183.2" y="2230.5">*</text><text x="1193.5" y="2230.5">*</text><text x="1203.8" y="2230.5">*</text><text x="1214" y="2230.5">*</text><text x="1224.3" y="2230.5">*</text><text x="1234.6" y="2230.5">*</text><text x="1244.9" y="2230.5">*</text><text x="1255.1" y="2230.5">*</text><text x="1265.4" y="2230.5">*</text><text x="1275.7" y="2230.5">*</text><text x="1285.9" y="2230.5">*</text><text x="1522.2" y="2230.5">*</text><text x="1173" y="2218.7">*</text><text x="1193.5" y="2218.7">*</text><text x="1203.8" y="2218.7">*</text><text x="1214" y="2218.7">*</text><text x="1224.3" y="2218.7">*</text><text x="1234.6" y="2218.7">*</text><text x="1244.9" y="2218.7">*</text><text x="1255.1" y="2218.7">*</text><text x="1265.4" y="2218.7">*</text></g>
<clipPath id="ca"><rect x="131.4" y="94.3" width="617.8" height="618.8"/></clipPath>
<g clip-path="url(#ca)">
<path d="M131.4 542L141.3 530L148.5 533L163 514L172 519L192 494L203 499L214 495L221 497L232 496L242.5 519L254.2 546L262.4 503L275 472L287.7 450L296.7 430L305.8 412L314.8 412L327.5 400L334.7 398L336.8 381L345 402L355 417L355 453L345 438L336.8 417L334.7 434L327.5 436L314.8 448L305.8 448L296.7 466L287.7 486L275 508L262.4 539L254.2 582L242.5 555L232 532L221 533L214 531L203 535L192 530L172 555L163 550L148.5 569L141.3 566L131.4 578Z" fill="#f0cdbf" fill-opacity="0.55" stroke="none"/>
<path d="M131.4 578L141.3 566L148.5 569L163 550L172 555L192 530L203 535L214 531L221 533L232 532L242.5 555L254.2 582L262.4 539L275 508L287.7 486L296.7 466L305.8 448L314.8 448L327.5 436L334.7 434L336.8 417L345 438L355 453L355 489L345 474L336.8 453L334.7 470L327.5 472L314.8 484L305.8 484L296.7 502L287.7 522L275 544L262.4 575L254.2 618L242.5 591L232 568L221 569L214 567L203 571L192 566L172 591L163 586L148.5 605L141.3 602L131.4 614Z" fill="#c9d6cc" fill-opacity="0.6" stroke="none"/>
<path d="M131.4 551L141.3 539L148.5 542L163 523L172 528L192 503L203 508L214 504L221 506L232 505L242.5 528L254.2 555L262.4 512L275 481L287.7 459L296.7 439L305.8 421L314.8 421L327.5 409L334.7 407L336.8 390L345 411L355 426L355 480L345 465L336.8 444L334.7 461L327.5 463L314.8 475L305.8 475L296.7 493L287.7 513L275 535L262.4 566L254.2 609L242.5 582L232 559L221 560L214 558L203 562L192 557L172 582L163 577L148.5 596L141.3 593L131.4 605Z" fill="#e9cf9c" fill-opacity="0.55" stroke="none"/>
<path d="M131.4 562L141.3 550L148.5 553L163 534L172 539L192 514L203 519L214 515L221 517L232 516L242.5 539L254.2 566L262.4 523L275 492L287.7 470L296.7 450L305.8 432L314.8 432L327.5 420L334.7 418L336.8 401L345 422L355 437L355 469L345 454L336.8 433L334.7 450L327.5 452L314.8 464L305.8 464L296.7 482L287.7 502L275 524L262.4 555L254.2 598L242.5 571L232 548L221 549L214 547L203 551L192 546L172 571L163 566L148.5 585L141.3 582L131.4 594Z" fill="#e2c27f" fill-opacity="0.5" stroke="none"/>
<path d="M343.7 446.3L356.6 463.2L369 408L378.5 419.3L390.2 466.1L404.8 527.5L419.4 586L432.6 629.9L438.5 641.6L452.4 619.9L463.6 594.2L474.7 571.8L483.7 555L492.6 542.7L501.6 530.4L510.5 523.7L520.6 513.6L532.9 503.6L541.8 521.5L553 534.9L564.2 524.8L573.2 532.7L586.6 519.2L595.5 494.6L604.5 487.9L614.6 462.2L623.6 448.8L634.7 436.4L645.9 425.3L657.1 423L668.3 418.5L679.5 410.7L687.3 395.1L697.4 383.9L708.6 385L718.6 378.3L729.8 376L748.9 380.5L748.9 436.5L729.8 432L718.6 434.3L708.6 441L697.4 439.9L687.3 451.1L679.5 466.7L668.3 474.5L657.1 479L645.9 481.3L634.7 492.4L623.6 504.8L614.6 518.2L604.5 543.9L595.5 550.6L586.6 575.2L573.2 588.7L564.2 580.8L553 590.9L541.8 577.5L532.9 559.6L520.6 569.6L510.5 579.7L501.6 586.4L492.6 598.7L483.7 611L474.7 627.8L463.6 650.2L452.4 675.9L438.5 697.6L432.6 685.9L419.4 642L404.8 583.5L390.2 522.1L378.5 475.3L369 463.2L356.6 501.6L343.7 453.7Z" fill="#8fae98" fill-opacity="0.3" stroke="none"/>
<path d="M343.7 448.4L356.6 469.8L368.3 428.8L381.4 471L397.5 536.8L415 602.6L429.7 649.4L438.5 652.4L452.4 626L463.6 600L474.7 577L483.7 561L492.6 548L502.7 526L517.2 520.1L530.7 530.2L544.1 534.7L553 541.4L563.1 526.8L573.2 540.3L586.6 523.5L595.5 501.1L604.5 497.7L615.7 465.3L626.9 448.5L637 440.7L648.2 429.5L662.7 425L673.9 418.3L685.1 417.2L697.4 407.1L708.6 402.6L722 390.3L735.4 381.4L748.9 384.7L748.9 436.7L735.4 433.4L722 442.3L708.6 454.6L697.4 459.1L685.1 469.2L673.9 470.3L662.7 477L648.2 481.5L637 492.7L626.9 500.5L615.7 517.3L604.5 549.7L595.5 553.1L586.6 575.5L573.2 592.3L563.1 578.8L553 593.4L544.1 586.7L530.7 582.2L517.2 572.1L502.7 578L492.6 600L483.7 613L474.7 629L463.6 652L452.4 678L438.5 704.4L429.7 701.4L415 654.6L397.5 588.8L381.4 523L368.3 480.4L356.6 506.6L343.7 455.6Z" fill="#8fae98" fill-opacity="0.28" stroke="none"/>
<path d="M343.7 449.4L356.6 471.6L368.3 431.2L383 474L399 540L416 606L430.5 650L440 651L452.4 628L463.6 602L474.7 579L483.7 563L492.6 550L501.6 532L515 530.2L530.7 534.7L544.1 538L555.3 543.6L564.2 545.8L575.4 540.3L586.6 526.8L595.5 503.3L603.4 505.6L615.7 470.9L626.9 461.9L638.1 453L648.2 447.4L661.6 441.8L670.5 437.3L679.5 425L686.2 417.2L697.4 409.4L708.6 402.6L718.6 392.6L729.8 380.3L748.9 383.6L748.9 435.6L729.8 432.3L718.6 444.6L708.6 454.6L697.4 461.4L686.2 469.2L679.5 477L670.5 489.3L661.6 493.8L648.2 499.4L638.1 505L626.9 513.9L615.7 522.9L603.4 557.6L595.5 555.3L586.6 578.8L575.4 592.3L564.2 597.8L555.3 595.6L544.1 590L530.7 586.7L515 582.2L501.6 584L492.6 602L483.7 615L474.7 631L463.6 654L452.4 680L440 703L430.5 702L416 658L399 592L383 526L368.3 482.8L356.6 508.4L343.7 456.6Z" fill="#8fae98" fill-opacity="0.28" stroke="none"/>
<path d="M343.7 442.3L355.1 446.2L368.3 370.9L374.8 346.2L381.6 341L398.9 337.6L405.7 341L416.1 363.4L426.4 380.7L440.2 404.7L450.5 408.2L462.4 428.6L480.3 435.3L501.5 427.4L516 431L531.7 435.3L544.1 418.5L563.1 427.4L576.5 425.2L590 421.3L604.5 410.1L615.7 416.8L623.6 401.1L637 401.1L657.1 409L668.3 402.2L677.3 410.1L687.3 407.8L696.3 402.2L707.5 405.6L718.6 395.5L729.8 403.4L748.9 415.7L748.9 479.7L729.8 467.4L718.6 459.5L707.5 469.6L696.3 466.2L687.3 471.8L677.3 474.1L668.3 466.2L657.1 473L637 465.1L623.6 465.1L615.7 480.8L604.5 474.1L590 485.3L576.5 489.2L563.1 491.4L544.1 482.5L531.7 499.3L516 495L501.5 491.4L480.3 499.3L462.4 492.6L450.5 472.2L440.2 468.7L426.4 444.7L416.1 427.4L405.7 405L398.9 401.6L381.6 405L374.8 410.2L368.3 433.1L355.1 483.4L343.7 449.7Z" fill="#f7e48a" fill-opacity="0.45" stroke="none"/>
<path d="M343.7 442.3L355.1 443.4L373 360L386.8 353.1L402.3 342.8L410.9 329L419.5 311.8L433.3 325.6L440 336.8L450.1 333.5L460.1 348L471.3 351.4L481.4 367L492.6 373.7L501.5 386L511.6 382.7L525 393.9L540.7 398.4L553 395L564.2 410.7L574.3 401.7L585.5 407.3L590 406.7L605.7 400L618 403.4L626.9 394.4L637 393.3L652.6 401.1L663.8 402.2L675 407.8L690 405L705 400L720 399L735 404L748.9 409L748.9 473L735 468L720 463L705 464L690 469L675 471.8L663.8 466.2L652.6 465.1L637 457.3L626.9 458.4L618 467.4L605.7 464L590 470.7L585.5 471.3L574.3 465.7L564.2 474.7L553 459L540.7 462.4L525 457.9L511.6 446.7L501.5 450L492.6 437.7L481.4 431L471.3 415.4L460.1 412L450.1 397.5L440 400.8L433.3 389.6L419.5 375.8L410.9 393L402.3 406.8L386.8 417.1L373 424L355.1 480.6L343.7 449.7Z" fill="#f0c47a" fill-opacity="0.4" stroke="none"/>
<path d="M345 434.4L355 439.1L361 432.1L407.4 147.4L430.1 151.4L440.2 184L447.4 212L453.4 229.3L462.4 239.4L476.9 247.2L490.3 258.4L502.7 275.2L512.7 277.4L520.6 287.5L529.5 304.3L540.7 315.5L551.9 328.9L563.1 326.7L575.4 330.6L585.5 323.3L590 323.9L601.2 328.3L614.6 340.6L625.8 337.9L637 345.1L645.9 343.4L657.1 350.7L670.5 358.5L688.4 363L701.9 370.9L713.1 374.2L724.2 376.4L735.4 378.7L748.9 382L748.9 426L735.4 422.7L724.2 420.4L713.1 418.2L701.9 414.9L688.4 407L670.5 402.5L657.1 394.7L645.9 387.4L637 389.1L625.8 381.9L614.6 384.6L601.2 372.3L590 367.9L585.5 367.3L575.4 374.6L563.1 370.7L551.9 372.9L540.7 359.5L529.5 348.3L520.6 331.5L512.7 321.4L502.7 319.2L490.3 302.4L476.9 291.2L462.4 283.4L453.4 273.3L447.4 256L440.2 228L430.1 195.4L407.4 191.4L361 471.9L355 466.9L345 441.6Z" fill="#e58a78" fill-opacity="0.28" stroke="none"/>
<path d="M345 434.5L355 439.6L361 433.2L409.2 177.5L419.5 175.7L433.3 196.4L447.1 223.9L451.2 247L462.4 253.7L473.6 271.6L479.2 272.7L490.3 282.8L502.7 289.5L511.6 285L520.6 300.7L532.9 315.2L542.9 317.5L551.9 330.9L563.1 334.3L574.3 335.4L583.2 350L594.4 343.2L603.4 347.1L614.6 349.4L626.9 357.2L637 362.8L645.9 359.4L657.1 365L668.3 371.7L675 368.4L688.4 368.4L701.9 377.3L713.1 384L724.2 382.9L735.4 386.3L748.9 387.4L748.9 427.4L735.4 426.3L724.2 422.9L713.1 424L701.9 417.3L688.4 408.4L675 408.4L668.3 411.7L657.1 405L645.9 399.4L637 402.8L626.9 397.2L614.6 389.4L603.4 387.1L594.4 383.2L583.2 390L574.3 375.4L563.1 374.3L551.9 370.9L542.9 357.5L532.9 355.2L520.6 340.7L511.6 325L502.7 329.5L490.3 322.8L479.2 312.7L473.6 311.6L462.4 293.7L451.2 287L447.1 263.9L433.3 236.4L419.5 215.7L409.2 217.5L361 470.8L355 466.4L345 441.5Z" fill="#e58a78" fill-opacity="0.28" stroke="none"/>
<path d="M345 434.5L355 439.6L361 433.2L410.9 179.2L426.4 180.9L436.7 203.3L454 242L465 260L480 270L490 278L505 285L520 298L535 310L550 325L565 335L580 342L590 351.6L603.4 358.3L614.6 360.5L623.6 358.3L637 363.9L652.6 363.9L663.8 372.9L676.1 378.4L685.1 375.1L701.9 386.3L710.8 390.7L724.2 394.1L735.4 395.2L748.9 397.5L748.9 437.5L735.4 435.2L724.2 434.1L710.8 430.7L701.9 426.3L685.1 415.1L676.1 418.4L663.8 412.9L652.6 403.9L637 403.9L623.6 398.3L614.6 400.5L603.4 398.3L590 391.6L580 382L565 375L550 365L535 350L520 338L505 325L490 318L480 310L465 300L454 282L436.7 243.3L426.4 220.9L410.9 219.2L361 470.8L355 466.4L345 441.5Z" fill="#e58a78" fill-opacity="0.22" stroke="none"/>
<path d="M345 434.5L355 439.6L361 433.2L419.5 211.9L435 214.5L447.1 237.7L454.5 247L468 272.7L476.9 280.6L482.5 297.3L493.7 300.7L502.7 317.5L516.1 328.7L525 337.6L532.9 334.3L544.1 347.7L557.5 349.9L574.3 356.6L585.5 364.5L590 362.8L601.2 366.1L612.4 371.7L625.8 376.2L645.9 372.9L657.1 388.5L668.3 393L679.5 393L690.7 397.5L701.9 399.7L708.6 398.6L724.2 409.8L739.9 418.7L748.9 398.6L748.9 438.6L739.9 458.7L724.2 449.8L708.6 438.6L701.9 439.7L690.7 437.5L679.5 433L668.3 433L657.1 428.5L645.9 412.9L625.8 416.2L612.4 411.7L601.2 406.1L590 402.8L585.5 404.5L574.3 396.6L557.5 389.9L544.1 387.7L532.9 374.3L525 377.6L516.1 368.7L502.7 357.5L493.7 340.7L482.5 337.3L476.9 320.6L468 312.7L454.5 287L447.1 277.7L435 254.5L419.5 251.9L361 470.8L355 466.4L345 441.5Z" fill="#e58a78" fill-opacity="0.28" stroke="none"/>
<path d="M131.4 587L141.3 574L148.5 575L163 558L172 563L192 525L203 540L214 536L221 532L232 528L242.5 552L254.2 584L262.4 542L275 510L287.7 490L296.7 470L305.8 452L314.8 454L327.5 440L334.7 437L343.7 453L356.6 490L368.3 457L383 500L399 566L416 632L430.5 676L440 677L452.4 654L463.6 628L474.7 605L483.7 589L492.6 576L501.6 558L515 556.2L530.7 560.7L544.1 564L555.3 569.6L564.2 571.8L575.4 566.3L586.6 552.8L595.5 529.3L603.4 531.6L615.7 496.9L626.9 487.9L638.1 479L648.2 473.4L661.6 467.8L670.5 463.3L679.5 451L686.2 443.2L697.4 435.4L708.6 428.6L718.6 418.6L729.8 406.3L748.9 409.6" stroke="#3d6b49" stroke-width="4.8" fill="none" stroke-linejoin="round" stroke-linecap="round"/>
<path d="M131.4 587L141.3 574L148.5 575L163 558L172 563L192 525L203 540L214 536L221 532L232 528L242.5 552L254.2 584L262.4 542L275 510L287.7 490L296.7 470L305.8 452L314.8 454L327.5 440L334.7 437L343.7 452L356.6 488.2L368.3 454.6L381.4 497L397.5 562.8L415 628.6L429.7 675.4L438.5 678.4L452.4 652L463.6 626L474.7 603L483.7 587L492.6 574L502.7 552L517.2 546.1L530.7 556.2L544.1 560.7L553 567.4L563.1 552.8L573.2 566.3L586.6 549.5L595.5 527.1L604.5 523.7L615.7 491.3L626.9 474.5L637 466.7L648.2 455.5L662.7 451L673.9 444.3L685.1 443.2L697.4 433.1L708.6 428.6L722 416.3L735.4 407.4L748.9 410.7" stroke="#3d6b49" stroke-width="4.8" fill="none" stroke-linejoin="round" stroke-linecap="round"/>
<path d="M131.4 587L141.3 574L148.5 575L163 558L172 563L192 525L203 540L214 536L221 532L232 528L242.5 552L254.2 584L262.4 542L275 510L287.7 490L296.7 470L305.8 452L314.8 454L327.5 440L334.7 437L343.7 450L356.6 482.4L369 435.6L378.5 447.3L390.2 494.1L404.8 555.5L419.4 614L432.6 657.9L438.5 669.6L452.4 647.9L463.6 622.2L474.7 599.8L483.7 583L492.6 570.7L501.6 558.4L510.5 551.7L520.6 541.6L532.9 531.6L541.8 549.5L553 562.9L564.2 552.8L573.2 560.7L586.6 547.2L595.5 522.6L604.5 515.9L614.6 490.2L623.6 476.8L634.7 464.4L645.9 453.3L657.1 451L668.3 446.5L679.5 438.7L687.3 423.1L697.4 411.9L708.6 413L718.6 406.3L729.8 404L748.9 408.5" stroke="#3d6b49" stroke-width="4.8" fill="none" stroke-linejoin="round" stroke-linecap="round"/>
<path d="M131.4 568L141.3 560L148.5 563L163 546L172 551L192 527L203 531L214 529L221 531L232 529L242.5 548L254.2 575L262.4 535L275 504L287.7 481L296.7 461L305.8 444L314.8 441L327.5 430L336.8 417L345 438L355 453L361 452L419.5 231.9L435 234.5L447.1 257.7L454.5 267L468 292.7L476.9 300.6L482.5 317.3L493.7 320.7L502.7 337.5L516.1 348.7L525 357.6L532.9 354.3L544.1 367.7L557.5 369.9L574.3 376.6L585.5 384.5L590 382.8L601.2 386.1L612.4 391.7L625.8 396.2L645.9 392.9L657.1 408.5L668.3 413L679.5 413L690.7 417.5L701.9 419.7L708.6 418.6L724.2 429.8L739.9 438.7L748.9 418.6" stroke="#d9552a" stroke-width="4.8" fill="none" stroke-linejoin="round" stroke-linecap="round"/>
<path d="M131.4 568L141.3 560L148.5 563L163 546L172 551L192 527L203 531L214 529L221 531L232 529L242.5 548L254.2 575L262.4 535L275 504L287.7 481L296.7 461L305.8 444L314.8 441L327.5 430L336.8 417L345 438L355 453L361 452L410.9 199.2L426.4 200.9L436.7 223.3L454 262L465 280L480 290L490 298L505 305L520 318L535 330L550 345L565 355L580 362L590 371.6L603.4 378.3L614.6 380.5L623.6 378.3L637 383.9L652.6 383.9L663.8 392.9L676.1 398.4L685.1 395.1L701.9 406.3L710.8 410.7L724.2 414.1L735.4 415.2L748.9 417.5" stroke="#d9552a" stroke-width="4.8" fill="none" stroke-linejoin="round" stroke-linecap="round"/>
<path d="M131.4 568L141.3 560L148.5 563L163 546L172 551L192 527L203 531L214 529L221 531L232 529L242.5 548L254.2 575L262.4 535L275 504L287.7 481L296.7 461L305.8 444L314.8 441L327.5 430L336.8 417L345 438L355 453L361 452L409.2 197.5L419.5 195.7L433.3 216.4L447.1 243.9L451.2 267L462.4 273.7L473.6 291.6L479.2 292.7L490.3 302.8L502.7 309.5L511.6 305L520.6 320.7L532.9 335.2L542.9 337.5L551.9 350.9L563.1 354.3L574.3 355.4L583.2 370L594.4 363.2L603.4 367.1L614.6 369.4L626.9 377.2L637 382.8L645.9 379.4L657.1 385L668.3 391.7L675 388.4L688.4 388.4L701.9 397.3L713.1 404L724.2 402.9L735.4 406.3L748.9 407.4" stroke="#d9552a" stroke-width="4.8" fill="none" stroke-linejoin="round" stroke-linecap="round"/>
<path d="M131.4 568L141.3 560L148.5 563L163 546L172 551L192 527L203 531L214 529L221 531L232 529L242.5 548L254.2 575L262.4 535L275 504L287.7 481L296.7 461L305.8 444L314.8 441L327.5 430L336.8 417L345 438L355 453L361 452L407.4 169.4L430.1 173.4L440.2 206L447.4 234L453.4 251.3L462.4 261.4L476.9 269.2L490.3 280.4L502.7 297.2L512.7 299.4L520.6 309.5L529.5 326.3L540.7 337.5L551.9 350.9L563.1 348.7L575.4 352.6L585.5 345.3L590 345.9L601.2 350.3L614.6 362.6L625.8 359.9L637 367.1L645.9 365.4L657.1 372.7L670.5 380.5L688.4 385L701.9 392.9L713.1 396.2L724.2 398.4L735.4 400.7L748.9 404" stroke="#d9552a" stroke-width="4.8" fill="none" stroke-linejoin="round" stroke-linecap="round"/>
<path d="M131.4 578L141.3 566L148.5 569L163 550L172 555L192 530L203 535L214 531L221 533L232 532L242.5 555L254.2 582L262.4 539L275 508L287.7 486L296.7 466L305.8 448L314.8 448L327.5 436L334.7 434L343.7 446L355.1 462L373 392L386.8 385.1L402.3 374.8L410.9 361L419.5 343.8L433.3 357.6L440 368.8L450.1 365.5L460.1 380L471.3 383.4L481.4 399L492.6 405.7L501.5 418L511.6 414.7L525 425.9L540.7 430.4L553 427L564.2 442.7L574.3 433.7L585.5 439.3L590 438.7L605.7 432L618 435.4L626.9 426.4L637 425.3L652.6 433.1L663.8 434.2L675 439.8L690 437L705 432L720 431L735 436L748.9 441" stroke="#e09a22" stroke-width="4.8" fill="none" stroke-linejoin="round" stroke-linecap="round"/>
<path d="M131.4 578L141.3 566L148.5 569L163 550L172 555L192 530L203 535L214 531L221 533L232 532L242.5 555L254.2 582L262.4 539L275 508L287.7 486L296.7 466L305.8 448L314.8 448L327.5 436L334.7 434L343.7 446L355.1 464.8L368.3 402L374.8 378.2L381.6 373L398.9 369.6L405.7 373L416.1 395.4L426.4 412.7L440.2 436.7L450.5 440.2L462.4 460.6L480.3 467.3L501.5 459.4L516 463L531.7 467.3L544.1 450.5L563.1 459.4L576.5 457.2L590 453.3L604.5 442.1L615.7 448.8L623.6 433.1L637 433.1L657.1 441L668.3 434.2L677.3 442.1L687.3 439.8L696.3 434.2L707.5 437.6L718.6 427.5L729.8 435.4L748.9 447.7" stroke="#f1cf0c" stroke-width="4.8" fill="none" stroke-linejoin="round" stroke-linecap="round"/>
</g>
<clipPath id="cb"><rect x="937.2" y="94.3" width="616.2" height="619"/></clipPath>
<g clip-path="url(#cb)">
<path d="M936.5 528.2L945.5 502.4L955.8 476.6L968.7 450.7L981.7 432.7L994.6 419.7L1007.5 406.8L1020.4 399.1L1033.3 393.9L1046.2 388.8L1059.1 383.6L1072 375.8L1085 375.8L1097.9 362.9L1110.8 347.4L1123.7 331.9L1136.6 321.6L1149.5 316.4L1157.3 313.9L1162.4 313.9L1162.4 349.9L1157.3 349.9L1149.5 352.4L1136.6 357.6L1123.7 367.9L1110.8 383.4L1097.9 398.9L1085 411.8L1072 411.8L1059.1 419.6L1046.2 424.8L1033.3 429.9L1020.4 435.1L1007.5 442.8L994.6 455.7L981.7 468.7L968.7 486.7L955.8 512.6L945.5 538.4L936.5 564.2Z" fill="#f0cdbf" fill-opacity="0.55" stroke="none"/>
<path d="M936.5 564.2L945.5 538.4L955.8 512.6L968.7 486.7L981.7 468.7L994.6 455.7L1007.5 442.8L1020.4 435.1L1033.3 429.9L1046.2 424.8L1059.1 419.6L1072 411.8L1085 411.8L1097.9 398.9L1110.8 383.4L1123.7 367.9L1136.6 357.6L1149.5 352.4L1157.3 349.9L1162.4 349.9L1162.4 385.9L1157.3 385.9L1149.5 388.4L1136.6 393.6L1123.7 403.9L1110.8 419.4L1097.9 434.9L1085 447.8L1072 447.8L1059.1 455.6L1046.2 460.8L1033.3 465.9L1020.4 471.1L1007.5 478.8L994.6 491.7L981.7 504.7L968.7 522.7L955.8 548.6L945.5 574.4L936.5 600.2Z" fill="#c9d6cc" fill-opacity="0.6" stroke="none"/>
<path d="M936.5 537.2L945.5 511.4L955.8 485.6L968.7 459.7L981.7 441.7L994.6 428.7L1007.5 415.8L1020.4 408.1L1033.3 402.9L1046.2 397.8L1059.1 392.6L1072 384.8L1085 384.8L1097.9 371.9L1110.8 356.4L1123.7 340.9L1136.6 330.6L1149.5 325.4L1157.3 322.9L1162.4 322.9L1162.4 376.9L1157.3 376.9L1149.5 379.4L1136.6 384.6L1123.7 394.9L1110.8 410.4L1097.9 425.9L1085 438.8L1072 438.8L1059.1 446.6L1046.2 451.8L1033.3 456.9L1020.4 462.1L1007.5 469.8L994.6 482.7L981.7 495.7L968.7 513.7L955.8 539.6L945.5 565.4L936.5 591.2Z" fill="#e9cf9c" fill-opacity="0.55" stroke="none"/>
<path d="M936.5 548.2L945.5 522.4L955.8 496.6L968.7 470.7L981.7 452.7L994.6 439.7L1007.5 426.8L1020.4 419.1L1033.3 413.9L1046.2 408.8L1059.1 403.6L1072 395.8L1085 395.8L1097.9 382.9L1110.8 367.4L1123.7 351.9L1136.6 341.6L1149.5 336.4L1157.3 333.9L1162.4 333.9L1162.4 365.9L1157.3 365.9L1149.5 368.4L1136.6 373.6L1123.7 383.9L1110.8 399.4L1097.9 414.9L1085 427.8L1072 427.8L1059.1 435.6L1046.2 440.8L1033.3 445.9L1020.4 451.1L1007.5 458.8L994.6 471.7L981.7 484.7L968.7 502.7L955.8 528.6L945.5 554.4L936.5 580.2Z" fill="#e2c27f" fill-opacity="0.5" stroke="none"/>
<path d="M1149.5 353.7L1157.3 343.5L1162.4 334.8L1168 341.2L1174.1 395.2L1180.1 442.8L1188.6 490.4L1198.2 538.6L1206.6 574.7L1212.7 604.8L1222.3 622.9L1234.3 636.2L1241.6 616.9L1250 598.8L1258.4 580.7L1268.1 556.7L1275.3 532.6L1286.1 518.1L1297 510.9L1306.7 481L1315.7 464.2L1328 468.7L1336.9 453L1347 434L1362.7 428.4L1378.3 413.9L1389.5 418.4L1396.2 389.3L1405.2 377L1416.4 369.1L1430 357L1440.3 345.8L1455.8 347.6L1470.4 353.6L1478.2 344.1L1483.3 339L1495.4 345.8L1510.9 339.8L1522.9 357L1533.2 348.4L1543.6 342.4L1552.5 349L1552.5 401L1543.6 394.4L1533.2 400.4L1522.9 409L1510.9 391.8L1495.4 397.8L1483.3 391L1478.2 396.1L1470.4 405.6L1455.8 399.6L1440.3 397.8L1430 409L1416.4 421.1L1405.2 429L1396.2 441.3L1389.5 470.4L1378.3 465.9L1362.7 480.4L1347 486L1336.9 505L1328 520.7L1315.7 516.2L1306.7 533L1297 562.9L1286.1 570.1L1275.3 584.6L1268.1 608.7L1258.4 632.7L1250 650.8L1241.6 668.9L1234.3 688.2L1222.3 674.9L1212.7 656.8L1206.6 626.7L1198.2 590.6L1188.6 542.4L1180.1 493.6L1174.1 444.8L1168 388.8L1162.4 369.2L1157.3 366.5L1149.5 360.3Z" fill="#88aaa0" fill-opacity="0.35" stroke="none"/>
<path d="M1149.5 353.7L1157.3 343.7L1162.4 335.3L1170 346.9L1177.7 396.4L1186.1 444.2L1195.8 492.4L1205.4 534.6L1215.1 564.7L1222.3 594.8L1228.3 610.5L1236.7 615.3L1246.4 612.9L1256 594.8L1265.7 570.7L1275.3 540.6L1282.5 528.5L1294.6 516.5L1306.7 499.8L1315.7 464L1328 460.6L1348.1 455L1358.2 443.9L1389.5 434.9L1396.2 424.8L1407.4 406.9L1418.6 387.9L1430 384L1440.3 371.9L1451.5 375.4L1461.8 365.1L1471.3 370.2L1483.3 361.6L1495.4 352.1L1507.4 348.7L1516 353.9L1524.6 364.2L1533.2 364.2L1544.4 356.5L1552.2 356.5L1552.2 404.5L1544.4 404.5L1533.2 412.2L1524.6 412.2L1516 401.9L1507.4 396.7L1495.4 400.1L1483.3 409.6L1471.3 418.2L1461.8 413.1L1451.5 423.4L1440.3 419.9L1430 432L1418.6 435.9L1407.4 454.9L1396.2 472.8L1389.5 482.9L1358.2 491.9L1348.1 503L1328 508.6L1315.7 512L1306.7 547.8L1294.6 564.5L1282.5 576.5L1275.3 588.6L1265.7 618.7L1256 642.8L1246.4 660.9L1236.7 663.3L1228.3 658.5L1222.3 642.8L1215.1 612.7L1205.4 582.6L1195.8 540.4L1186.1 492.2L1177.7 443.6L1170 393.1L1162.4 368.7L1157.3 366.3L1149.5 360.3Z" fill="#88aaa0" fill-opacity="0.35" stroke="none"/>
<path d="M1149.5 345.1L1157.3 335.2L1162.4 330.1L1166 333.7L1181.3 392.6L1189.8 428.1L1198.2 464.3L1207.8 512.5L1217.5 554.7L1224.7 572.7L1234.3 577.5L1244 567.9L1254.8 552.2L1263.3 530.6L1272.9 506.5L1282.5 482.4L1289.8 464.3L1297 452.2L1300 451L1313.4 442.1L1326.9 430.9L1338 430.9L1347 419.7L1360.4 411.9L1376.1 402.9L1385 390.6L1392.9 382.8L1404.1 370.5L1414.1 361.5L1427.6 344.7L1440 334.7L1451.5 318.9L1458.4 330.1L1467 332.7L1478.2 337L1490.2 352.5L1502.3 361.1L1514.3 366.2L1524.6 374L1533.2 385.1L1543.6 378.3L1552.2 377.4L1552.2 433.4L1543.6 434.3L1533.2 441.1L1524.6 430L1514.3 422.2L1502.3 417.1L1490.2 408.5L1478.2 393L1467 388.7L1458.4 386.1L1451.5 374.9L1440 390.7L1427.6 400.7L1414.1 417.5L1404.1 426.5L1392.9 438.8L1385 446.6L1376.1 458.9L1360.4 467.9L1347 475.7L1338 486.9L1326.9 486.9L1313.4 498.1L1300 507L1297 508.2L1289.8 520.3L1282.5 538.4L1272.9 562.5L1263.3 586.6L1254.8 608.2L1244 623.9L1234.3 633.5L1224.7 628.7L1217.5 610.7L1207.8 568.5L1198.2 520.3L1189.8 484.1L1181.3 447.4L1166 378.3L1162.4 365.7L1157.3 358.6L1149.5 351.7Z" fill="#c4d48a" fill-opacity="0.4" stroke="none"/>
<path d="M1149.5 345.1L1157.3 335L1162.4 329.6L1167.6 327.1L1177.9 349.9L1188.6 390L1195.8 426.1L1204.2 474.3L1215.1 496L1228.3 510.5L1244 518.9L1252.4 509.3L1264.5 496L1269.3 481.6L1275.3 457.5L1284.9 444.2L1294.6 428.6L1300 417.7L1315.7 400.9L1328 409.9L1336.9 406.5L1347 395.3L1359.3 389.7L1369.4 379.7L1380.6 377.4L1389.5 379.7L1398.5 362.9L1407.4 366.2L1416.4 355L1427.6 341.6L1440.3 332.4L1451.5 318.6L1460.1 319.5L1481.6 326.4L1491.9 329L1502.3 339.3L1514.3 355.6L1524.6 367.7L1537.5 371.1L1552.2 374.5L1552.2 434.5L1537.5 431.1L1524.6 427.7L1514.3 415.6L1502.3 399.3L1491.9 389L1481.6 386.4L1460.1 379.5L1451.5 378.6L1440.3 392.4L1427.6 401.6L1416.4 415L1407.4 426.2L1398.5 422.9L1389.5 439.7L1380.6 437.4L1369.4 439.7L1359.3 449.7L1347 455.3L1336.9 466.5L1328 469.9L1315.7 460.9L1300 477.7L1294.6 488.6L1284.9 504.2L1275.3 517.5L1269.3 541.6L1264.5 556L1252.4 569.3L1244 578.9L1228.3 570.5L1215.1 556L1204.2 534.3L1195.8 486.1L1188.6 450L1177.9 406.7L1167.6 377.7L1162.4 366.2L1157.3 358.8L1149.5 351.7Z" fill="#d6e4a0" fill-opacity="0.4" stroke="none"/>
<path d="M1149.5 344.1L1157.3 333.9L1162.4 328L1166 324.8L1177.9 321.3L1193.4 304.7L1203.8 325.4L1212 330.6L1224.1 347.5L1236.1 354.7L1255.4 349.9L1267.5 337.8L1279.5 333L1286.7 318.6L1300 317.1L1311.2 310.4L1325.7 314.8L1341.4 316L1358.2 312.6L1368.3 324.9L1378.3 313.7L1389.5 305.9L1400.7 308.1L1411.9 302.5L1423.1 299.2L1430 291.4L1449.8 281.1L1471.3 283.7L1481.6 276.8L1491.9 294.9L1507.4 306L1524.6 314.6L1533.2 331.8L1544.4 326.7L1552.2 335.3L1552.2 415.3L1544.4 406.7L1533.2 411.8L1524.6 394.6L1507.4 386L1491.9 374.9L1481.6 356.8L1471.3 363.7L1449.8 361.1L1430 371.4L1423.1 379.2L1411.9 382.5L1400.7 388.1L1389.5 385.9L1378.3 393.7L1368.3 404.9L1358.2 392.6L1341.4 396L1325.7 394.8L1311.2 390.4L1300 397.1L1286.7 398.6L1279.5 413L1267.5 417.8L1255.4 429.9L1236.1 434.7L1224.1 427.5L1212 410.6L1203.8 405.4L1193.4 384.7L1177.9 393.9L1166 379.2L1162.4 369.8L1157.3 359.9L1149.5 350.7Z" fill="#f8ec9a" fill-opacity="0.55" stroke="none"/>
<path d="M1149.5 344.1L1157.3 334.7L1162.4 329.1L1166 325.1L1175.4 318L1193.4 274L1203.8 248.1L1212 227.8L1224.1 222.9L1238.6 225.3L1255.4 239.8L1267.5 239.8L1284.3 259.1L1296.4 261.5L1308.4 254.3L1320.5 256.7L1327.7 266.3L1342.5 268L1350.4 278.1L1362.7 280.3L1371.6 285.9L1378.3 280.3L1389.5 282.5L1398.5 290.4L1409.7 284.8L1423.1 289.3L1430 283.1L1440.3 274.5L1450.6 273.6L1461 283.1L1471.3 279.6L1491.9 280.5L1498.8 295.1L1505.7 306.3L1524.6 314L1537.5 320.9L1546.1 328.7L1552.2 342.4L1552.2 406.4L1546.1 392.7L1537.5 384.9L1524.6 378L1505.7 370.3L1498.8 359.1L1491.9 344.5L1471.3 343.6L1461 347.1L1450.6 337.6L1440.3 338.5L1430 347.1L1423.1 353.3L1409.7 348.8L1398.5 354.4L1389.5 346.5L1378.3 344.3L1371.6 349.9L1362.7 344.3L1350.4 342.1L1342.5 332L1327.7 330.3L1320.5 320.7L1308.4 318.3L1296.4 325.5L1284.3 323.1L1267.5 303.8L1255.4 303.8L1238.6 289.3L1224.1 286.9L1212 291.8L1203.8 312.1L1193.4 338L1175.4 376.6L1166 372.9L1162.4 366.7L1157.3 359.1L1149.5 350.7Z" fill="#f0cc88" fill-opacity="0.4" stroke="none"/>
<path d="M1149.5 344.1L1157.3 334.7L1162.4 329.1L1166 324.1L1175.4 315.4L1188.3 243L1193.4 217.1L1203.8 209.4L1214.5 227.8L1224.1 256.7L1236.1 266.3L1248.2 271.1L1260.2 282L1277.1 273.5L1300 282.5L1316.8 280.3L1328 294.9L1336.9 284.8L1350.4 288.1L1367.1 293.7L1380.6 282.5L1398.5 298.2L1411.9 290.4L1426.5 293.7L1430 302L1441.2 310.6L1461 302.9L1481.6 316.6L1491.9 310.6L1503.1 319.2L1510.9 314.9L1526.4 322.6L1537.5 325.2L1552.2 322.6L1552.2 386.6L1537.5 389.2L1526.4 386.6L1510.9 378.9L1503.1 383.2L1491.9 374.6L1481.6 380.6L1461 366.9L1441.2 374.6L1430 366L1426.5 357.7L1411.9 354.4L1398.5 362.2L1380.6 346.5L1367.1 357.7L1350.4 352.1L1336.9 348.8L1328 358.9L1316.8 344.3L1300 346.5L1277.1 337.5L1260.2 346L1248.2 335.1L1236.1 330.3L1224.1 320.7L1214.5 291.8L1203.8 273.4L1193.4 281.1L1188.3 307L1175.4 374L1166 371.9L1162.4 366.7L1157.3 359.1L1149.5 350.7Z" fill="#eeb98a" fill-opacity="0.4" stroke="none"/>
<path d="M1149.5 354.1L1157.3 340.2L1162.4 330.1L1165 318.5L1175.4 248.6L1183.1 203.3L1193.4 177.2L1203.8 156.6L1214.5 151L1224.1 143.8L1233.7 141.4L1245.8 171.5L1255.4 175.1L1265.1 178.7L1284.3 190.8L1296.4 219.7L1303.6 210.1L1315.7 219.7L1332.5 231.8L1344.6 236.6L1356.6 245L1368.7 243.8L1388 248.6L1400 246.2L1416.9 252.2L1430 254.4L1440.3 252.6L1451.5 260.4L1461.8 269.9L1471.3 251.8L1481.6 256.1L1491.9 254.4L1502.3 266.4L1521.2 268.1L1533.2 273.3L1543.6 273.3L1553 269L1553 325L1543.6 329.3L1533.2 329.3L1521.2 324.1L1502.3 322.4L1491.9 310.4L1481.6 312.1L1471.3 307.8L1461.8 325.9L1451.5 316.4L1440.3 308.6L1430 310.4L1416.9 308.2L1400 302.2L1388 304.6L1368.7 299.8L1356.6 301L1344.6 292.6L1332.5 287.8L1315.7 275.7L1303.6 266.1L1296.4 275.7L1284.3 246.8L1265.1 234.7L1255.4 231.1L1245.8 227.5L1233.7 197.4L1224.1 199.8L1214.5 207L1203.8 212.6L1193.4 233.2L1183.1 258.7L1175.4 301.4L1165 360.5L1162.4 365.7L1157.3 363.6L1149.5 360.7Z" fill="#e79484" fill-opacity="0.3" stroke="none"/>
<path d="M1149.5 354.1L1157.3 340.2L1162.4 330.1L1165 320L1175.4 252.6L1183.1 208.3L1193.4 181L1203.8 161L1214.5 152.2L1224.1 159.5L1233.7 149.8L1245.8 176.3L1265.1 202.8L1284.3 214.9L1301.2 222.1L1315.7 239L1332.5 246.2L1356.6 251L1380.7 255.9L1397.6 251L1416.9 253.4L1430 257L1451.5 263.8L1464.4 271.6L1480.8 277.6L1491.9 269.9L1503.1 275.9L1512.6 287.1L1524.6 287.1L1541.8 280.2L1553 288.8L1553 344.8L1541.8 336.2L1524.6 343.1L1512.6 343.1L1503.1 331.9L1491.9 325.9L1480.8 333.6L1464.4 327.6L1451.5 319.8L1430 313L1416.9 309.4L1397.6 307L1380.7 311.9L1356.6 307L1332.5 302.2L1315.7 295L1301.2 278.1L1284.3 270.9L1265.1 258.8L1245.8 232.3L1233.7 205.8L1224.1 215.5L1214.5 208.2L1203.8 217L1193.4 237L1183.1 263.7L1175.4 305.4L1165 362L1162.4 365.7L1157.3 363.6L1149.5 360.7Z" fill="#e79484" fill-opacity="0.3" stroke="none"/>
<path d="M936.5 572.2L945.5 547.4L955.8 519.6L968.7 494.7L981.7 476.7L994.6 461.7L1007.5 447.8L1020.4 441.1L1033.3 431.9L1046.2 429.8L1059.1 426.6L1072 415.8L1085 412.8L1097.9 404.9L1110.8 391.4L1123.7 372.9L1136.6 363.6L1149.5 357.4L1157.3 351.9L1162.4 347.9L1165 341L1175.4 279L1183.1 236L1193.4 209L1203.8 189L1214.5 180.2L1224.1 187.5L1233.7 177.8L1245.8 204.3L1265.1 230.8L1284.3 242.9L1301.2 250.1L1315.7 267L1332.5 274.2L1356.6 279L1380.7 283.9L1397.6 279L1416.9 281.4L1430 285L1451.5 291.8L1464.4 299.6L1480.8 305.6L1491.9 297.9L1503.1 303.9L1512.6 315.1L1524.6 315.1L1541.8 308.2L1553 316.8" stroke="#d4502b" stroke-width="4.8" fill="none" stroke-linejoin="round" stroke-linecap="round"/>
<path d="M936.5 572.2L945.5 547.4L955.8 519.6L968.7 494.7L981.7 476.7L994.6 461.7L1007.5 447.8L1020.4 441.1L1033.3 431.9L1046.2 429.8L1059.1 426.6L1072 415.8L1085 412.8L1097.9 404.9L1110.8 391.4L1123.7 372.9L1136.6 363.6L1149.5 357.4L1157.3 351.9L1162.4 347.9L1165 339.5L1175.4 275L1183.1 231L1193.4 205.2L1203.8 184.6L1214.5 179L1224.1 171.8L1233.7 169.4L1245.8 199.5L1255.4 203.1L1265.1 206.7L1284.3 218.8L1296.4 247.7L1303.6 238.1L1315.7 247.7L1332.5 259.8L1344.6 264.6L1356.6 273L1368.7 271.8L1388 276.6L1400 274.2L1416.9 280.2L1430 282.4L1440.3 280.6L1451.5 288.4L1461.8 297.9L1471.3 279.8L1481.6 284.1L1491.9 282.4L1502.3 294.4L1521.2 296.1L1533.2 301.3L1543.6 301.3L1553 297" stroke="#d4502b" stroke-width="4.8" fill="none" stroke-linejoin="round" stroke-linecap="round"/>
<path d="M936.5 558.2L945.5 528.4L955.8 504.6L968.7 480.7L981.7 464.7L994.6 449.7L1007.5 437.8L1020.4 428.1L1033.3 420.9L1046.2 419.8L1059.1 410.6L1072 389.8L1085 406.8L1097.9 390.9L1110.8 376.4L1123.7 361.9L1136.6 351.6L1149.5 347.4L1157.3 346.9L1162.4 347.9L1166 348L1175.4 344.7L1188.3 275L1193.4 249.1L1203.8 241.4L1214.5 259.8L1224.1 288.7L1236.1 298.3L1248.2 303.1L1260.2 314L1277.1 305.5L1300 314.5L1316.8 312.3L1328 326.9L1336.9 316.8L1350.4 320.1L1367.1 325.7L1380.6 314.5L1398.5 330.2L1411.9 322.4L1426.5 325.7L1430 334L1441.2 342.6L1461 334.9L1481.6 348.6L1491.9 342.6L1503.1 351.2L1510.9 346.9L1526.4 354.6L1537.5 357.2L1552.2 354.6" stroke="#dc8a2a" stroke-width="4.8" fill="none" stroke-linejoin="round" stroke-linecap="round"/>
<path d="M936.5 558.2L945.5 528.4L955.8 504.6L968.7 480.7L981.7 464.7L994.6 449.7L1007.5 437.8L1020.4 428.1L1033.3 420.9L1046.2 419.8L1059.1 410.6L1072 389.8L1085 406.8L1097.9 390.9L1110.8 376.4L1123.7 361.9L1136.6 351.6L1149.5 347.4L1157.3 346.9L1162.4 347.9L1166 349L1175.4 347.3L1193.4 306L1203.8 280.1L1212 259.8L1224.1 254.9L1238.6 257.3L1255.4 271.8L1267.5 271.8L1284.3 291.1L1296.4 293.5L1308.4 286.3L1320.5 288.7L1327.7 298.3L1342.5 300L1350.4 310.1L1362.7 312.3L1371.6 317.9L1378.3 312.3L1389.5 314.5L1398.5 322.4L1409.7 316.8L1423.1 321.3L1430 315.1L1440.3 306.5L1450.6 305.6L1461 315.1L1471.3 311.6L1491.9 312.5L1498.8 327.1L1505.7 338.3L1524.6 346L1537.5 352.9L1546.1 360.7L1552.2 374.4" stroke="#e6a823" stroke-width="4.8" fill="none" stroke-linejoin="round" stroke-linecap="round"/>
<path d="M936.5 570.2L945.5 536.4L955.8 507.6L968.7 482.7L981.7 462.7L994.6 453.7L1007.5 442.8L1020.4 432.1L1033.3 428.9L1046.2 420.8L1059.1 414.6L1072 409.8L1085 408.8L1097.9 390.9L1110.8 374.4L1123.7 360.9L1136.6 352.6L1149.5 347.4L1157.3 346.9L1162.4 348.9L1166 352L1177.9 357.6L1193.4 344.7L1203.8 365.4L1212 370.6L1224.1 387.5L1236.1 394.7L1255.4 389.9L1267.5 377.8L1279.5 373L1286.7 358.6L1300 357.1L1311.2 350.4L1325.7 354.8L1341.4 356L1358.2 352.6L1368.3 364.9L1378.3 353.7L1389.5 345.9L1400.7 348.1L1411.9 342.5L1423.1 339.2L1430 331.4L1449.8 321.1L1471.3 323.7L1481.6 316.8L1491.9 334.9L1507.4 346L1524.6 354.6L1533.2 371.8L1544.4 366.7L1552.2 375.3" stroke="#f0d90a" stroke-width="4.8" fill="none" stroke-linejoin="round" stroke-linecap="round"/>
<path d="M936.5 566L945.5 541L955.8 516L968.7 489L981.7 470L994.6 456L1007.5 445L1012.6 422L1028.1 409.3L1041 437.7L1048.8 437.7L1059.1 417L1074.6 401.5L1082.4 422.2L1090.1 401.5L1097.9 402L1110.8 386L1123.7 371L1136.6 361L1149.5 357L1157.3 355L1162.4 352L1170 370L1177.7 420L1186.1 468.2L1195.8 516.4L1205.4 558.6L1215.1 588.7L1222.3 618.8L1228.3 634.5L1236.7 639.3L1246.4 636.9L1256 618.8L1265.7 594.7L1275.3 564.6L1282.5 552.5L1294.6 540.5L1306.7 523.8L1315.7 488L1328 484.6L1348.1 479L1358.2 467.9L1389.5 458.9L1396.2 448.8L1407.4 430.9L1418.6 411.9L1430 408L1440.3 395.9L1451.5 399.4L1461.8 389.1L1471.3 394.2L1483.3 385.6L1495.4 376.1L1507.4 372.7L1516 377.9L1524.6 388.2L1533.2 388.2L1544.4 380.5L1552.2 380.5" stroke="#2c5e4c" stroke-width="4.8" fill="none" stroke-linejoin="round" stroke-linecap="round"/>
<path d="M936.5 566L945.5 541L955.8 516L968.7 489L981.7 470L994.6 456L1007.5 445L1012.6 422L1028.1 409.3L1041 437.7L1048.8 437.7L1059.1 417L1074.6 401.5L1082.4 422.2L1090.1 401.5L1097.9 402L1110.8 386L1123.7 371L1136.6 361L1149.5 357L1157.3 355L1162.4 352L1168 365L1174.1 420L1180.1 468.2L1188.6 516.4L1198.2 564.6L1206.6 600.7L1212.7 630.8L1222.3 648.9L1234.3 662.2L1241.6 642.9L1250 624.8L1258.4 606.7L1268.1 582.7L1275.3 558.6L1286.1 544.1L1297 536.9L1306.7 507L1315.7 490.2L1328 494.7L1336.9 479L1347 460L1362.7 454.4L1378.3 439.9L1389.5 444.4L1396.2 415.3L1405.2 403L1416.4 395.1L1430 383L1440.3 371.8L1455.8 373.6L1470.4 379.6L1478.2 370.1L1483.3 365L1495.4 371.8L1510.9 365.8L1522.9 383L1533.2 374.4L1543.6 368.4L1552.5 375" stroke="#2c5e4c" stroke-width="4.8" fill="none" stroke-linejoin="round" stroke-linecap="round"/>
<path d="M936.5 562.2L945.5 535.4L955.8 511.6L968.7 486.7L981.7 469.7L994.6 458.7L1007.5 444.8L1020.4 431.1L1033.3 431.9L1046.2 423.8L1059.1 422.6L1072 415.8L1085 410.8L1097.9 400.9L1110.8 384.4L1123.7 366.9L1136.6 355.6L1149.5 348.4L1157.3 346.9L1162.4 347.9L1166 356L1181.3 420L1189.8 456.1L1198.2 492.3L1207.8 540.5L1217.5 582.7L1224.7 600.7L1234.3 605.5L1244 595.9L1254.8 580.2L1263.3 558.6L1272.9 534.5L1282.5 510.4L1289.8 492.3L1297 480.2L1300 479L1313.4 470.1L1326.9 458.9L1338 458.9L1347 447.7L1360.4 439.9L1376.1 430.9L1385 418.6L1392.9 410.8L1404.1 398.5L1414.1 389.5L1427.6 372.7L1440 362.7L1451.5 346.9L1458.4 358.1L1467 360.7L1478.2 365L1490.2 380.5L1502.3 389.1L1514.3 394.2L1524.6 402L1533.2 413.1L1543.6 406.3L1552.2 405.4" stroke="#6f9c30" stroke-width="4.8" fill="none" stroke-linejoin="round" stroke-linecap="round"/>
<path d="M936.5 562.2L945.5 535.4L955.8 511.6L968.7 486.7L981.7 469.7L994.6 458.7L1007.5 444.8L1020.4 431.1L1033.3 431.9L1046.2 423.8L1059.1 422.6L1072 415.8L1085 410.8L1097.9 400.9L1110.8 384.4L1123.7 366.9L1136.6 355.6L1149.5 348.4L1157.3 346.9L1162.4 347.9L1167.6 352.4L1177.9 378.3L1188.6 420L1195.8 456.1L1204.2 504.3L1215.1 526L1228.3 540.5L1244 548.9L1252.4 539.3L1264.5 526L1269.3 511.6L1275.3 487.5L1284.9 474.2L1294.6 458.6L1300 447.7L1315.7 430.9L1328 439.9L1336.9 436.5L1347 425.3L1359.3 419.7L1369.4 409.7L1380.6 407.4L1389.5 409.7L1398.5 392.9L1407.4 396.2L1416.4 385L1427.6 371.6L1440.3 362.4L1451.5 348.6L1460.1 349.5L1481.6 356.4L1491.9 359L1502.3 369.3L1514.3 385.6L1524.6 397.7L1537.5 401.1L1552.2 404.5" stroke="#8bb62a" stroke-width="4.8" fill="none" stroke-linejoin="round" stroke-linecap="round"/>
</g>
</svg></body></html>
